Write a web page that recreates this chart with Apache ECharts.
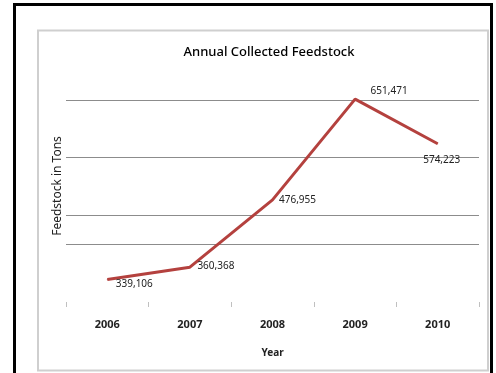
<!DOCTYPE html>
<html>
<head>
<meta charset="utf-8">
<script src="https://cdn.jsdelivr.net/npm/echarts@6/dist/echarts.min.js"></script>
<style>
html,body{margin:0;padding:0;background:#fff;}
#c{width:496px;height:373px;}
</style>
</head>
<body>
<div id="c"></div>
<script>
const years = ['2006', '2007', '2008', '2009', '2010'];
const feedstock = [339106, 360368, 476955, 651471, 574223];
const gridValues = [400000, 450000, 550000, 650000];
const labelOffsets = [[27, 5], [26, -1], [25, 0], [34, -8], [4, 16]];

const chart = echarts.init(document.getElementById('c'), null, {renderer: 'canvas'});
const FONT = 'Noto Sans';

chart.setOption({
  animation: false,
  backgroundColor: '#fff',
  title: {
    text: 'Annual Collected Feedstock',
    left: 264, top: 41, textAlign: 'center',
    textStyle: {fontFamily: FONT, fontSize: 13, fontWeight: 500, color: '#000'}
  },
  graphic: [
    {type: 'rect', shape: {x: 14.5, y: 4.5, width: 477, height: 380}, style: {fill: 'none', stroke: '#000', lineWidth: 3}},
    {type: 'rect', shape: {x: 38, y: 30.5, width: 450, height: 340}, style: {fill: 'none', stroke: '#cfcfcf', lineWidth: 2}},
    {type: 'text', x: 58, y: 186, rotation: Math.PI / 2,
     style: {text: 'Feedstock in Tons', font: '12px "Noto Sans"', fill: '#222', textAlign: 'center', textVerticalAlign: 'middle'}}
  ],
  grid: {left: 66, right: 17, top: 100, bottom: 71},
  xAxis: {
    type: 'category',
    data: years,
    boundaryGap: true,
    axisLine: {show: false},
    axisTick: {show: true, length: 5, inside: false, lineStyle: {color: '#c0c0c0', width: 1}},
    axisLabel: {margin: 17, fontFamily: FONT, fontSize: 11, fontWeight: 'bold', color: '#222'},
    name: 'Year', nameLocation: 'middle', nameGap: 46,
    nameTextStyle: {fontFamily: FONT, fontSize: 10, fontWeight: 'bold', color: '#222'}
  },
  yAxis: {
    type: 'value',
    min: 300000, max: 650000, interval: 50000,
    axisLine: {show: false}, axisTick: {show: false}, axisLabel: {show: false},
    splitLine: {show: false}
  },
  series: [{
    type: 'line',
    data: feedstock.map((v, i) => ({
      value: v,
      label: {offset: labelOffsets[i]}
    })),
    clip: false,
    symbol: 'circle', symbolSize: 1,
    itemStyle: {color: '#b4413e'},
    lineStyle: {color: '#b4413e', width: 3},
    label: {
      show: true, position: 'inside',
      formatter: p => p.value.toLocaleString('en-US'),
      fontFamily: FONT, fontSize: 10, color: '#222'
    },
    markLine: {
      silent: true, symbol: 'none', label: {show: false},
      lineStyle: {color: '#8c8c8c', width: 1, type: 'solid'},
      data: gridValues.map(v => ({yAxis: v})),
      z: 1
    },
    z: 3
  }]
});
</script>
</body>
</html>
